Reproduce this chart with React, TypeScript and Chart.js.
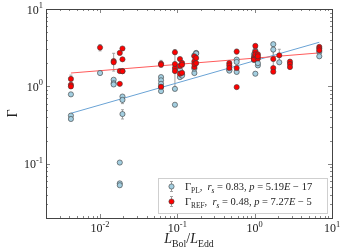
import React, { useEffect, useRef } from "react";
import { Chart, registerables } from "chart.js";

Chart.register(...registerables);

// ---- data ----
const plX = [0.0042, 0.0042, 0.0042, 0.01, 0.015, 0.015, 0.015, 0.018, 0.018, 0.018, 0.0195, 0.0195, 0.0195,
  0.0615, 0.0615, 0.0615, 0.0615, 0.0615, 0.093, 0.093, 0.108, 0.108, 0.115, 0.115, 0.166, 0.166, 0.166,
  0.175, 0.175, 0.47, 0.47, 0.585, 0.585, 0.585, 0.98, 0.98, 0.98, 1.02, 1.02, 1.02, 1.1, 1.1, 1.74, 1.74,
  2.08, 6.85, 6.85];
const plY = [0.79, 0.42, 0.38, 1.49, 1.22, 1.1, 1.06, 0.104, 0.056, 0.053, 0.74, 0.67, 0.44,
  1.32, 1.2, 1.08, 0.98, 0.87, 0.93, 0.58, 1.64, 1.32, 1.43, 1.38, 2.52, 1.49, 1.7,
  2.71, 2.66, 1.64, 1.6, 2.22, 2.07, 1.54, 2.6, 2.4, 2.2, 2.9, 2.7, 1.46, 1.87, 2.0, 3.51, 2.99,
  2.05, 2.79, 2.45];
const plErr = [0, 0, 0, 0, 0, 0, 0, 0, 0, 0, 0, 0.07, 0.06,
  0, 0, 0, 0, 0, 0, 0, 0, 0, 0, 0, 0, 0, 0,
  0, 0, 0, 0, 0, 0, 0, 0, 0, 0, 0.2, 0, 0, 0, 0, 0, 0.5,
  0, 0, 0];

const refX = [0.0042, 0.0042, 0.0042, 0.01, 0.015, 0.015, 0.018, 0.018, 0.018, 0.0195, 0.0195, 0.0195, 0.0195,
  0.0615, 0.0615, 0.0615, 0.093, 0.093, 0.093, 0.093, 0.108, 0.108, 0.108, 0.115, 0.115, 0.115,
  0.166, 0.166, 0.166, 0.166, 0.175, 0.175, 0.47, 0.47, 0.47, 0.585, 0.585, 0.585, 0.98, 0.98,
  1.02, 1.02, 1.02, 1.02, 1.1, 1.1, 1.1, 1.74, 1.74, 1.74, 2.08, 2.86, 2.86, 2.86, 6.85, 6.85, 6.85];
const refY = [1.25, 1.05, 1.0, 3.18, 2.13, 2.05, 2.71, 1.08, 1.58, 3.09, 2.24, 1.58, 1.57,
  1.97, 1.91, 0.99, 2.76, 1.73, 1.58, 1.95, 2.26, 1.84, 1.46, 2.01, 1.91, 1.5,
  2.45, 2.11, 1.78, 1.95, 2.33, 2.0, 2.0, 1.87, 1.73, 2.82, 1.73, 0.98, 2.33, 2.22,
  2.8, 2.52, 3.34, 2.6, 2.6, 2.3, 2.45, 2.26, 1.73, 1.55, 2.52, 2.09, 1.95, 1.78, 3.24, 3.09, 2.93];
const refErr = [0.15, 0, 0, 0.3, 0.55, 0, 0, 0, 0, 0, 0, 0, 0,
  0.2, 0, 0, 0, 0, 0, 1.05, 0, 0, 0, 0, 0, 0,
  0, 0, 0, 0, 0, 0, 0, 0, 0, 0.2, 0, 0, 0, 0,
  0.25, 0, 0, 0, 0, 0, 0, 0.6, 0, 0, 0.5, 0, 0, 0, 0, 0, 0];

const fitX = [0.0042, 6.85];
const plFitY = [0.45, 3.72];
const refFitY = [1.49, 2.71];

const xMajor = [0.01, 0.1, 1, 10];
const xMajorExp = ["-2", "-1", "0", "1"];
const yMajor = [0.1, 1, 10];
const yMajorExp = ["-1", "0", "1"];

const xRange = [0.002, 10];
const yRange = [0.02, 10];

const plLabel = { sym: "Γ", sub: "PL", rs: "0.83", p: "5.19", e: "17" };
const refLabel = { sym: "Γ", sub: "REF", rs: "0.48", p: "7.27", e: "5" };

const SERIF = "'Liberation Serif', 'DejaVu Serif', serif";
const PL_FILL = "#a3cee0";
const REF_FILL = "#ff0000";
const EDGE = "#3a3a3a";
const ERR = "#a0a0a0";

type Seg = { t: string; it?: boolean; sub?: boolean };

function drawSegs(ctx: CanvasRenderingContext2D, segs: Seg[], x: number, y: number, size: number) {
  let cx = x;
  for (const s of segs) {
    const fs = s.sub ? size * 0.7 : size;
    ctx.font = `${s.it ? "italic " : ""}${fs}px ${SERIF}`;
    const dy = s.sub ? size * 0.28 : 0;
    ctx.fillText(s.t, cx, y + dy);
    cx += ctx.measureText(s.t).width;
  }
  return cx;
}

function legendSegs(l: typeof plLabel): Seg[] {
  return [
    { t: l.sym },
    { t: l.sub, sub: true },
    { t: ",  " },
    { t: "r", it: true },
    { t: "s", it: true, sub: true },
    { t: " = " + l.rs + ", " },
    { t: "p", it: true },
    { t: " = " + l.p },
    { t: "E", it: true },
    { t: " − " + l.e },
  ];
}

function marker(ctx: CanvasRenderingContext2D, x: number, y: number, fill: string) {
  ctx.beginPath();
  ctx.arc(x, y, 2.6, 0, Math.PI * 2);
  ctx.fillStyle = fill;
  ctx.fill();
  ctx.lineWidth = 0.6;
  ctx.strokeStyle = EDGE;
  ctx.stroke();
}

const errPlugin = {
  id: "errbars",
  beforeDatasetsDraw(chart: any) {
    const ctx = chart.ctx as CanvasRenderingContext2D;
    const xs = chart.scales.x;
    const ys = chart.scales.y;
    ctx.save();
    ctx.strokeStyle = ERR;
    ctx.lineWidth = 1;
    const draw = (X: number[], Y: number[], E: number[]) => {
      for (let i = 0; i < X.length; i++) {
        if (!E[i]) continue;
        const px = xs.getPixelForValue(X[i]);
        const y1 = ys.getPixelForValue(Y[i] + E[i]);
        const y2 = ys.getPixelForValue(Math.max(Y[i] - E[i], 0.021));
        ctx.beginPath();
        ctx.moveTo(px, y1);
        ctx.lineTo(px, y2);
        ctx.moveTo(px - 1.5, y1);
        ctx.lineTo(px + 1.5, y1);
        ctx.moveTo(px - 1.5, y2);
        ctx.lineTo(px + 1.5, y2);
        ctx.stroke();
      }
    };
    draw(plX, plY, plErr);
    draw(refX, refY, refErr);
    ctx.restore();
  },
};

const framePlugin = {
  id: "frame",
  afterDraw(chart: any) {
    const ctx = chart.ctx as CanvasRenderingContext2D;
    const { left, right, top, bottom } = chart.chartArea;
    const xs = chart.scales.x;
    const ys = chart.scales.y;
    ctx.save();
    // ticks
    ctx.strokeStyle = "#666";
    ctx.lineWidth = 0.8;
    const xTick = (v: number, len: number) => {
      const p = Math.round(xs.getPixelForValue(v)) + 0.5;
      ctx.beginPath();
      ctx.moveTo(p, bottom);
      ctx.lineTo(p, bottom - len);
      ctx.moveTo(p, top);
      ctx.lineTo(p, top + len);
      ctx.stroke();
    };
    const yTick = (v: number, len: number) => {
      const p = Math.round(ys.getPixelForValue(v)) + 0.5;
      ctx.beginPath();
      ctx.moveTo(left, p);
      ctx.lineTo(left + len, p);
      ctx.moveTo(right, p);
      ctx.lineTo(right - len, p);
      ctx.stroke();
    };
    for (let e = -3; e <= 1; e++) {
      for (let k = 1; k <= 9; k++) {
        const v = k * Math.pow(10, e);
        if (v >= xRange[0] * 0.999 && v <= xRange[1] * 1.001) xTick(v, k === 1 ? 4 : 2);
        if (v >= yRange[0] * 0.999 && v <= yRange[1] * 1.001) yTick(v, k === 1 ? 4 : 2);
      }
    }
    // box
    ctx.strokeStyle = "#444";
    ctx.lineWidth = 1;
    ctx.strokeRect(Math.round(left) + 0.5, Math.round(top) + 0.5, Math.round(right - left), Math.round(bottom - top));

    // tick labels
    ctx.fillStyle = "#222";
    ctx.textBaseline = "alphabetic";
    const base = 12;
    xMajor.forEach((v, i) => {
      const p = xs.getPixelForValue(v);
      ctx.font = `${base}px ${SERIF}`;
      const w1 = ctx.measureText("10").width;
      ctx.font = `${base * 0.7}px ${SERIF}`;
      const w2 = ctx.measureText(xMajorExp[i]).width;
      const x0 = p - (w1 + w2) / 2;
      ctx.font = `${base}px ${SERIF}`;
      ctx.fillText("10", x0, 232);
      ctx.font = `${base * 0.7}px ${SERIF}`;
      ctx.fillText(xMajorExp[i], x0 + w1, 226.5);
    });
    yMajor.forEach((v, i) => {
      const p = ys.getPixelForValue(v);
      ctx.font = `${base}px ${SERIF}`;
      const w1 = ctx.measureText("10").width;
      ctx.font = `${base * 0.7}px ${SERIF}`;
      const w2 = ctx.measureText(yMajorExp[i]).width;
      const x0 = left - 3 - (w1 + w2);
      ctx.font = `${base}px ${SERIF}`;
      ctx.fillText("10", x0, p + 4.5);
      ctx.font = `${base * 0.7}px ${SERIF}`;
      ctx.fillText(yMajorExp[i], x0 + w1, p - 1);
    });

    // axis titles
    ctx.fillStyle = "#222";
    const xt: Seg[] = [
      { t: "L", it: true },
      { t: "Bol", sub: true },
      { t: "/" },
      { t: "L", it: true },
      { t: "Edd", sub: true },
    ];
    let tw = 0;
    for (const s of xt) {
      ctx.font = `${s.it ? "italic " : ""}${s.sub ? 14 * 0.7 : 14}px ${SERIF}`;
      tw += ctx.measureText(s.t).width;
    }
    drawSegs(ctx, xt, (left + right) / 2 - tw / 2, 243, 14);

    ctx.save();
    ctx.translate(17, (top + bottom) / 2);
    ctx.rotate(-Math.PI / 2);
    ctx.font = `14px ${SERIF}`;
    ctx.textAlign = "center";
    ctx.fillText("Γ", 0, 0);
    ctx.restore();

    // legend
    const lx = 158, ly = 178, lw = 169, lh = 35;
    ctx.fillStyle = "#fff";
    ctx.fillRect(lx, ly, lw, lh);
    ctx.strokeStyle = "#cfcfcf";
    ctx.lineWidth = 1;
    ctx.strokeRect(lx + 0.5, ly + 0.5, lw, lh);
    const rows = [
      { l: plLabel, fill: PL_FILL, y: 186.5 },
      { l: refLabel, fill: REF_FILL, y: 201.5 },
    ];
    for (const r of rows) {
      const mx = 171.5;
      ctx.strokeStyle = ERR;
      ctx.lineWidth = 1;
      ctx.beginPath();
      ctx.moveTo(mx, r.y - 5);
      ctx.lineTo(mx, r.y + 5);
      ctx.moveTo(mx - 1.5, r.y - 5);
      ctx.lineTo(mx + 1.5, r.y - 5);
      ctx.moveTo(mx - 1.5, r.y + 5);
      ctx.lineTo(mx + 1.5, r.y + 5);
      ctx.stroke();
      marker(ctx, mx, r.y, r.fill);
      ctx.fillStyle = "#222";
      drawSegs(ctx, legendSegs(r.l), 185, r.y + 3.5, 10.5);
    }
    ctx.restore();
  },
};

export default function App() {
  const ref = useRef<HTMLCanvasElement | null>(null);
  useEffect(() => {
    document.body.style.margin = "0";
    const toPts = (X: number[], Y: number[]) => X.map((x, i) => ({ x, y: Y[i] }));
    const chart = new Chart(ref.current!, {
      type: "scatter",
      data: {
        datasets: [
          {
            label: "REF",
            data: toPts(refX, refY),
            pointRadius: 2.6,
            pointBackgroundColor: REF_FILL,
            pointBorderColor: EDGE,
            pointBorderWidth: 0.6,
          },
          {
            label: "PL",
            data: toPts(plX, plY),
            pointRadius: 2.6,
            pointBackgroundColor: PL_FILL,
            pointBorderColor: EDGE,
            pointBorderWidth: 0.6,
          },
          {
            label: "refFit",
            data: toPts(fitX, refFitY),
            showLine: true,
            pointRadius: 0,
            borderColor: "#ff5a5a",
            borderWidth: 1,
          },
          {
            label: "plFit",
            data: toPts(fitX, plFitY),
            showLine: true,
            pointRadius: 0,
            borderColor: "#6aa3d5",
            borderWidth: 1,
          },
        ],
      },
      options: {
        animation: false,
        responsive: false,
        devicePixelRatio: 1,
        layout: { padding: { left: 46, right: 10, top: 9, bottom: 32 } },
        plugins: { legend: { display: false }, tooltip: { enabled: false } },
        scales: {
          x: { type: "logarithmic", min: xRange[0], max: xRange[1], display: false },
          y: { type: "logarithmic", min: yRange[0], max: yRange[1], display: false },
        },
      },
      plugins: [errPlugin, framePlugin],
    });
    return () => chart.destroy();
  }, []);
  return (
    <div style={{ width: 342, height: 250, background: "#fff" }}>
      <canvas ref={ref} width={342} height={250} />
    </div>
  );
}
